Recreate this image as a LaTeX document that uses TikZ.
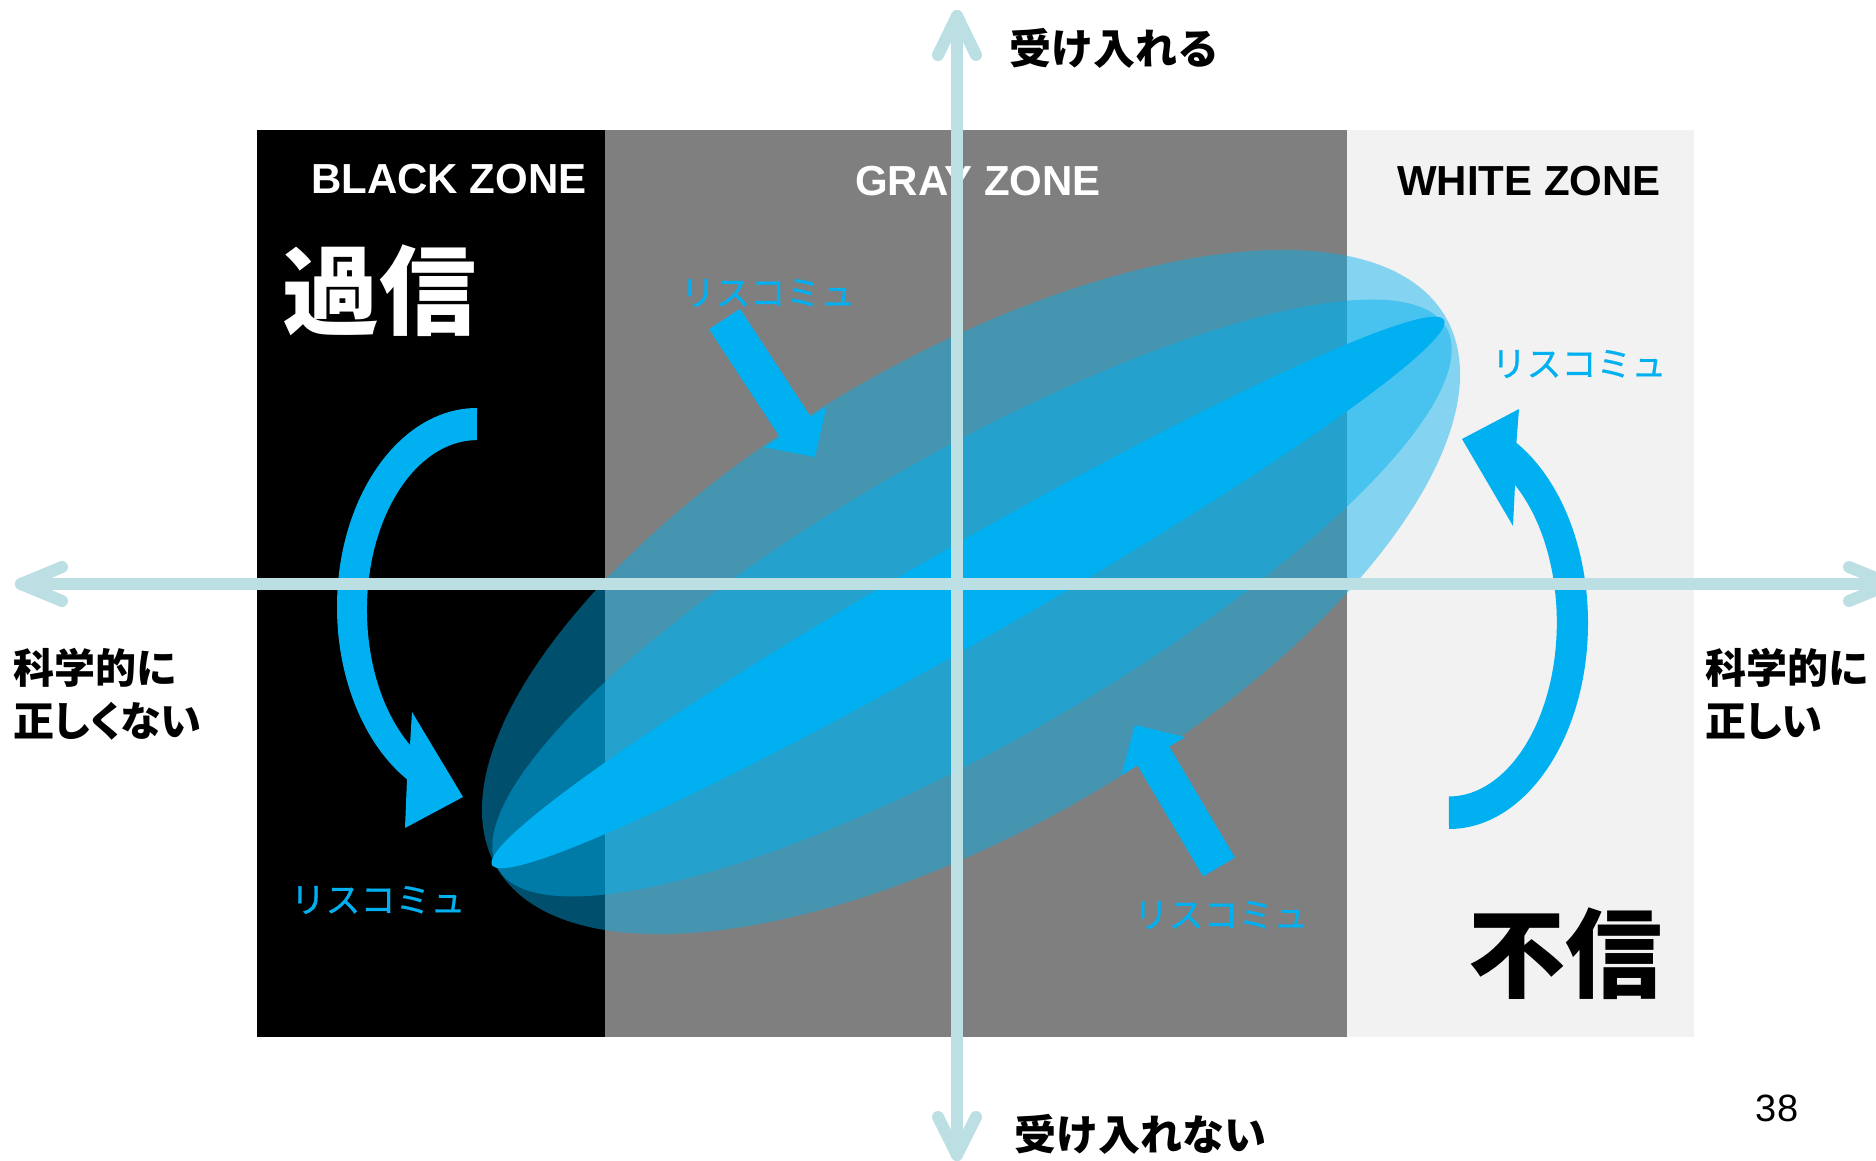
\documentclass[tikz,border=0pt]{standalone}
\usepackage{fontspec}
\setmainfont{Liberation Sans}
\newfontfamily\jp{Noto Sans CJK JP}
\newfontfamily\jpp[RawFeature=+palt]{Noto Sans CJK JP}
\newfontfamily\jpm[FakeBold=0.6]{Noto Sans CJK JP}
\usetikzlibrary{calc}
\definecolor{rblue}{RGB}{0,176,240}
\definecolor{axisc}{RGB}{187,223,227}
\definecolor{zgray}{RGB}{127,127,127}
\definecolor{zwhite}{RGB}{242,242,242}
\begin{document}
\begin{tikzpicture}[x=1pt,y=-1pt,
  every node/.style={inner sep=0pt, outer sep=0pt},
  zonetitle/.style={font=\fontsize{42}{42}\selectfont\bfseries},
  bigword/.style={font=\jp\bfseries\fontsize{97}{97}\selectfont},
  risklabel/.style={font=\jpm\fontsize{35}{35}\selectfont, text=rblue},
  axislabel/.style={font=\jp\bfseries\fontsize{42}{42}\selectfont},
  sidelabel/.style={font=\jp\bfseries\fontsize{41}{53}\selectfont, align=left, anchor=west},
  axisline/.style={draw=axisc, line width=12pt, line cap=round, line join=round},
  cloud/.style={fill=rblue, fill opacity=0.45},
]
\fill[white] (0,0) rectangle (1876,1161);
\useasboundingbox (0,0) rectangle (1876,1161);

% zones
\fill[black] (257,130) rectangle (605,1037);
\fill[zgray] (605,130) rectangle (1347,1037);
\fill[zwhite] (1347,130) rectangle (1694,1037);

\node[zonetitle, text=white] (bz) at (449,179) {BLACK ZONE};
\node[zonetitle, text=white] (gz) at (978,181) {GRAY ZONE};
\node[zonetitle, text=black] (wz) at (1529,181) {WHITE ZONE};

\node[bigword, text=white] (kashin) at (379,291) {過信};
\node[bigword, text=black] (fushin) at (1565,954) {不信};

% ellipses
\fill[cloud, shift={(971,592)}, rotate=30.1] (0,0) ellipse[x radius=548.5, y radius=235];
\fill[cloud, shift={(972,598)}, rotate=29.7] (0,0) ellipse[x radius=546, y radius=145];
\fill[rblue, shift={(968,592.5)}, rotate=29.8] (0,0) ellipse[x radius=548.5, y radius=48];

% straight block arrows
\coordinate (a1s) at (724.5,319);
\coordinate (a1t) at (815,457);
\coordinate (a1b) at ($(a1t)!36pt!(a1s)$);
\fill[rblue] ($(a1s)!18.5pt!-90:(a1t)$) -- ($(a1b)!18.5pt!90:(a1s)$) -- ($(a1b)!37pt!90:(a1s)$) -- (a1t)
  -- ($(a1b)!37pt!-90:(a1s)$) -- ($(a1b)!18.5pt!-90:(a1s)$) -- ($(a1s)!18.5pt!90:(a1t)$) -- cycle;

\coordinate (a2s) at (1219,867);
\coordinate (a2t) at (1135,725);
\coordinate (a2b) at ($(a2t)!36pt!(a2s)$);
\fill[rblue] ($(a2s)!18.5pt!-90:(a2t)$) -- ($(a2b)!18.5pt!90:(a2s)$) -- ($(a2b)!37pt!90:(a2s)$) -- (a2t)
  -- ($(a2b)!37pt!-90:(a2s)$) -- ($(a2b)!18.5pt!-90:(a2s)$) -- ($(a2s)!18.5pt!90:(a2t)$) -- cycle;

% curved arrows
\fill[rblue] (477,408) arc[start angle=-90, end angle=-240, x radius=140, y radius=199]
  -- (405,828) -- (463,797) -- (412,712) -- (410,745)
  arc[start angle=-232.5, end angle=-90, x radius=110, y radius=170] -- cycle;
\fill[rblue] (1449,829) arc[start angle=90, end angle=-61, x radius=139, y radius=206]
  -- (1519,409) -- (1462,439) -- (1513,526) -- (1515,485)
  arc[start angle=-52.2, end angle=90, x radius=108, y radius=174] -- cycle;

% risk communication labels
\node[risklabel] (r1) at (768,293) {リスコミュ};
\node[risklabel] (r2) at (1579,364) {リスコミュ};
\node[risklabel] (r3) at (378,900) {リスコミュ};
\node[risklabel] (r4) at (1221,915) {リスコミュ};

% axes
\coordinate (hl) at (21,584);
\coordinate (hr) at (1890,584);
\coordinate (hl1) at (62,567);
\coordinate (hl2) at (62,601);
\coordinate (hr1) at (1849,567);
\coordinate (hr2) at (1849,601);
\coordinate (vt) at (957,16);
\coordinate (vb) at (957,1155);
\coordinate (vt1) at (938,55);
\coordinate (vt2) at (976,55);
\coordinate (vb1) at (938,1117);
\coordinate (vb2) at (976,1117);
\draw[axisline] (hl) -- (hr);
\draw[axisline] (vt) -- (vb);
\draw[axisline] (hl1) -- (hl) -- (hl2);
\draw[axisline] (hr1) -- (hr) -- (hr2);
\draw[axisline] (vt1) -- (vt) -- (vt2);
\draw[axisline] (vb1) -- (vb) -- (vb2);

% axis labels
\node[axislabel] (accept) at (1114,48) {受け入れる};
\node[axislabel] (reject) at (1140,1134) {受け入れない};
\node[sidelabel] (wrong) at (13,694) {科学的に\\{\jpp 正しくない}};
\node[sidelabel] (right) at (1705,694) {科学的に\\{\jpp 正しい}};

\node[font=\fontsize{38}{38}\selectfont] (page) at (1777,1108) {38};
\end{tikzpicture}
\end{document}
